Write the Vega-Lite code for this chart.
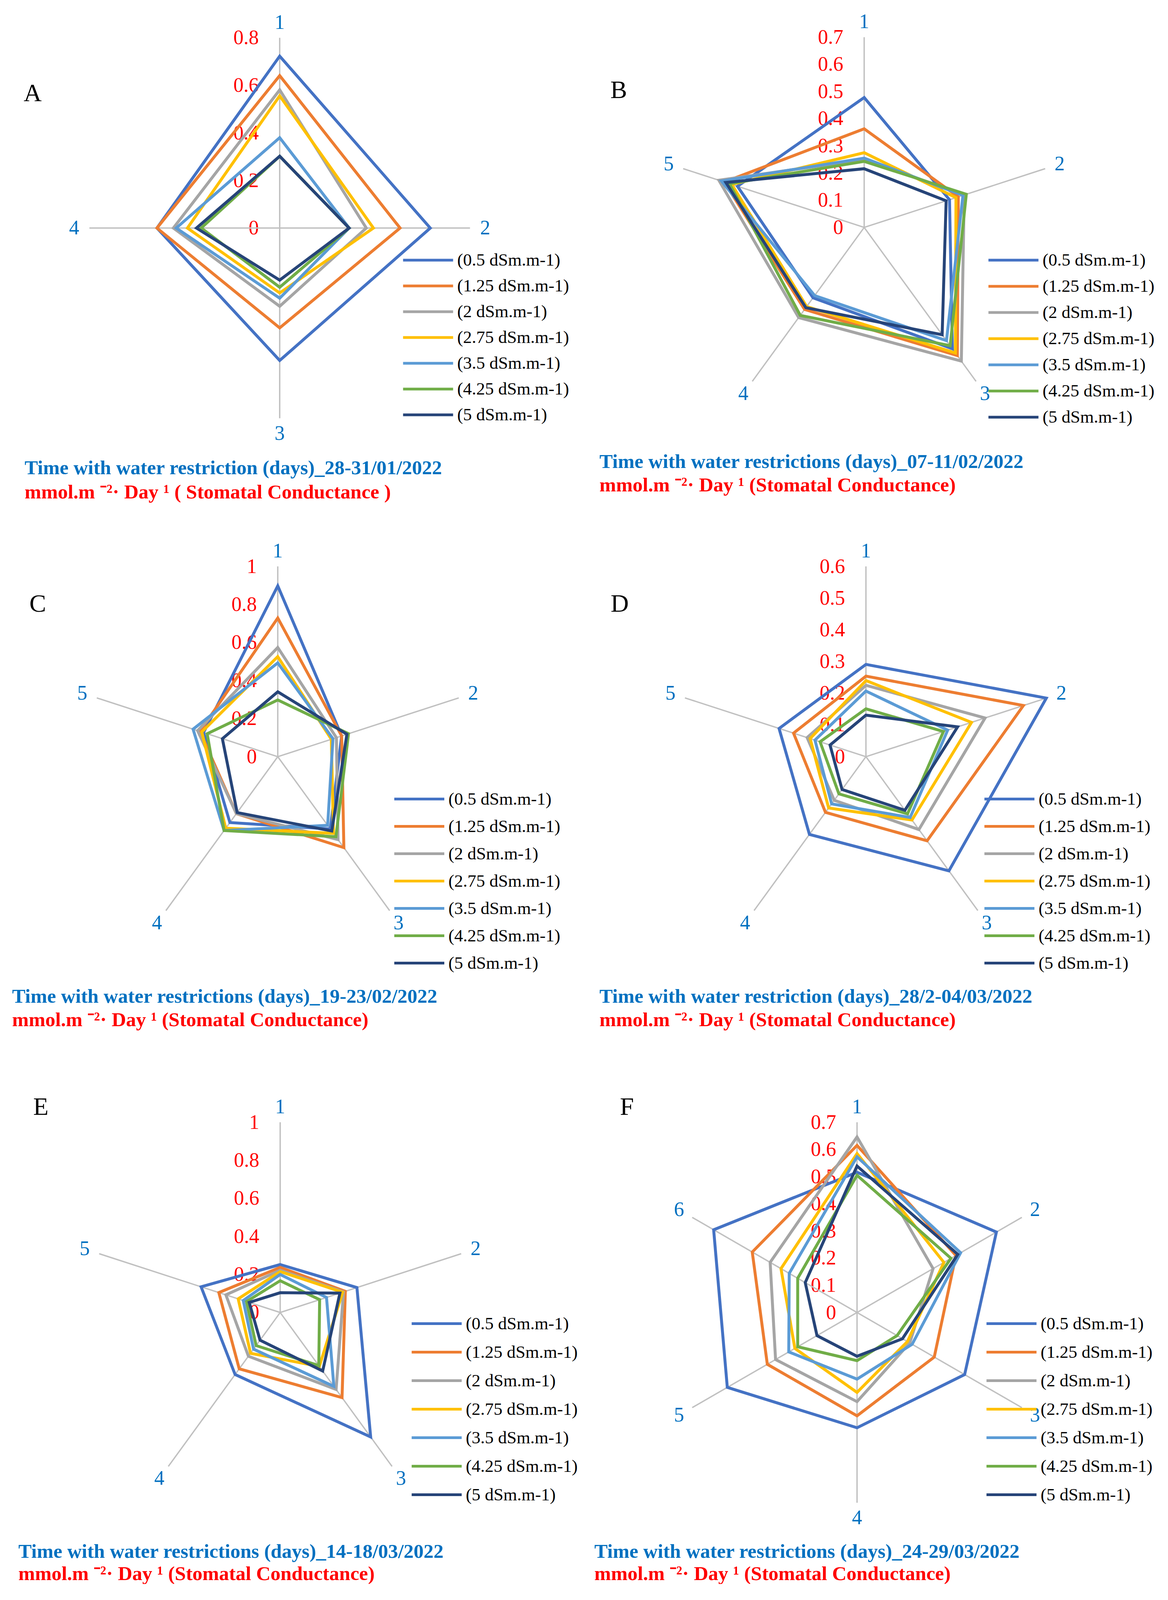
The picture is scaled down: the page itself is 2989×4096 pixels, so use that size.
{
"$schema": "https://vega.github.io/schema/vega-lite/v6.json",
"background": "white",
"padding": 0,
"columns": 2,
"spacing": {"row": 170, "column": 0},
"bounds": "flush",
"config": {
  "view": {"stroke": null},
  "font": "Liberation Serif",
  "title": {"orient": "bottom", "anchor": "start", "frame": "group", "font": "Liberation Serif", "subtitleFont": "Liberation Serif", "fontSize": 51, "subtitleFontSize": 51, "fontWeight": "bold", "subtitleFontWeight": "bold", "color": "#0070C0", "subtitleColor": "#FF0000"},
  "axis": {"domain": false, "ticks": false, "grid": false, "labelColor": "#FF0000", "labelFont": "Liberation Serif", "labelFontSize": 52, "labelPadding": 54, "labelOverlap": false, "format": "~g", "labelBaseline": "middle"},
  "legend": {"orient": "none", "symbolType": "M-7,0H1", "symbolSize": 1024, "symbolStrokeWidth": 7, "labelFont": "Liberation Serif", "labelFontSize": 45, "labelColor": "#000000", "labelOffset": 4, "labelLimit": 0}
},
"datasets": {
"radar": [
{"p":"A","s":"(0.5 dSm.m-1)","k":1,"v":0.723},{"p":"A","s":"(0.5 dSm.m-1)","k":2,"v":0.633},{"p":"A","s":"(0.5 dSm.m-1)","k":3,"v":0.557},{"p":"A","s":"(0.5 dSm.m-1)","k":4,"v":0.516},
{"p":"A","s":"(1.25 dSm.m-1)","k":1,"v":0.641},{"p":"A","s":"(1.25 dSm.m-1)","k":2,"v":0.506},{"p":"A","s":"(1.25 dSm.m-1)","k":3,"v":0.42},{"p":"A","s":"(1.25 dSm.m-1)","k":4,"v":0.516},
{"p":"A","s":"(2 dSm.m-1)","k":1,"v":0.581},{"p":"A","s":"(2 dSm.m-1)","k":2,"v":0.364},{"p":"A","s":"(2 dSm.m-1)","k":3,"v":0.329},{"p":"A","s":"(2 dSm.m-1)","k":4,"v":0.447},
{"p":"A","s":"(2.75 dSm.m-1)","k":1,"v":0.556},{"p":"A","s":"(2.75 dSm.m-1)","k":2,"v":0.394},{"p":"A","s":"(2.75 dSm.m-1)","k":3,"v":0.273},{"p":"A","s":"(2.75 dSm.m-1)","k":4,"v":0.388},
{"p":"A","s":"(3.5 dSm.m-1)","k":1,"v":0.38},{"p":"A","s":"(3.5 dSm.m-1)","k":2,"v":0.292},{"p":"A","s":"(3.5 dSm.m-1)","k":3,"v":0.295},{"p":"A","s":"(3.5 dSm.m-1)","k":4,"v":0.435},
{"p":"A","s":"(4.25 dSm.m-1)","k":1,"v":0.302},{"p":"A","s":"(4.25 dSm.m-1)","k":2,"v":0.292},{"p":"A","s":"(4.25 dSm.m-1)","k":3,"v":0.249},{"p":"A","s":"(4.25 dSm.m-1)","k":4,"v":0.33},
{"p":"A","s":"(5 dSm.m-1)","k":1,"v":0.302},{"p":"A","s":"(5 dSm.m-1)","k":2,"v":0.292},{"p":"A","s":"(5 dSm.m-1)","k":3,"v":0.219},{"p":"A","s":"(5 dSm.m-1)","k":4,"v":0.35},

{"p":"B","s":"(0.5 dSm.m-1)","k":1,"v":0.478},{"p":"B","s":"(0.5 dSm.m-1)","k":2,"v":0.33},{"p":"B","s":"(0.5 dSm.m-1)","k":3,"v":0.552},{"p":"B","s":"(0.5 dSm.m-1)","k":4,"v":0.32},{"p":"B","s":"(0.5 dSm.m-1)","k":5,"v":0.49},
{"p":"B","s":"(1.25 dSm.m-1)","k":1,"v":0.363},{"p":"B","s":"(1.25 dSm.m-1)","k":2,"v":0.364},{"p":"B","s":"(1.25 dSm.m-1)","k":3,"v":0.583},{"p":"B","s":"(1.25 dSm.m-1)","k":4,"v":0.373},{"p":"B","s":"(1.25 dSm.m-1)","k":5,"v":0.541},
{"p":"B","s":"(2 dSm.m-1)","k":1,"v":0.25},{"p":"B","s":"(2 dSm.m-1)","k":2,"v":0.387},{"p":"B","s":"(2 dSm.m-1)","k":3,"v":0.608},{"p":"B","s":"(2 dSm.m-1)","k":4,"v":0.41},{"p":"B","s":"(2 dSm.m-1)","k":5,"v":0.562},
{"p":"B","s":"(2.75 dSm.m-1)","k":1,"v":0.275},{"p":"B","s":"(2.75 dSm.m-1)","k":2,"v":0.355},{"p":"B","s":"(2.75 dSm.m-1)","k":3,"v":0.571},{"p":"B","s":"(2.75 dSm.m-1)","k":4,"v":0.36},{"p":"B","s":"(2.75 dSm.m-1)","k":5,"v":0.512},
{"p":"B","s":"(3.5 dSm.m-1)","k":1,"v":0.255},{"p":"B","s":"(3.5 dSm.m-1)","k":2,"v":0.382},{"p":"B","s":"(3.5 dSm.m-1)","k":3,"v":0.515},{"p":"B","s":"(3.5 dSm.m-1)","k":4,"v":0.31},{"p":"B","s":"(3.5 dSm.m-1)","k":5,"v":0.552},
{"p":"B","s":"(4.25 dSm.m-1)","k":1,"v":0.243},{"p":"B","s":"(4.25 dSm.m-1)","k":2,"v":0.395},{"p":"B","s":"(4.25 dSm.m-1)","k":3,"v":0.538},{"p":"B","s":"(4.25 dSm.m-1)","k":4,"v":0.4},{"p":"B","s":"(4.25 dSm.m-1)","k":5,"v":0.521},
{"p":"B","s":"(5 dSm.m-1)","k":1,"v":0.216},{"p":"B","s":"(5 dSm.m-1)","k":2,"v":0.317},{"p":"B","s":"(5 dSm.m-1)","k":3,"v":0.488},{"p":"B","s":"(5 dSm.m-1)","k":4,"v":0.365},{"p":"B","s":"(5 dSm.m-1)","k":5,"v":0.535},

{"p":"C","s":"(0.5 dSm.m-1)","k":1,"v":0.898},{"p":"C","s":"(0.5 dSm.m-1)","k":2,"v":0.353},{"p":"C","s":"(0.5 dSm.m-1)","k":3,"v":0.47},{"p":"C","s":"(0.5 dSm.m-1)","k":4,"v":0.428},{"p":"C","s":"(0.5 dSm.m-1)","k":5,"v":0.41},
{"p":"C","s":"(1.25 dSm.m-1)","k":1,"v":0.729},{"p":"C","s":"(1.25 dSm.m-1)","k":2,"v":0.353},{"p":"C","s":"(1.25 dSm.m-1)","k":3,"v":0.591},{"p":"C","s":"(1.25 dSm.m-1)","k":4,"v":0.37},{"p":"C","s":"(1.25 dSm.m-1)","k":5,"v":0.43},
{"p":"C","s":"(2 dSm.m-1)","k":1,"v":0.574},{"p":"C","s":"(2 dSm.m-1)","k":2,"v":0.324},{"p":"C","s":"(2 dSm.m-1)","k":3,"v":0.539},{"p":"C","s":"(2 dSm.m-1)","k":4,"v":0.37},{"p":"C","s":"(2 dSm.m-1)","k":5,"v":0.443},
{"p":"C","s":"(2.75 dSm.m-1)","k":1,"v":0.526},{"p":"C","s":"(2.75 dSm.m-1)","k":2,"v":0.296},{"p":"C","s":"(2.75 dSm.m-1)","k":3,"v":0.498},{"p":"C","s":"(2.75 dSm.m-1)","k":4,"v":0.465},{"p":"C","s":"(2.75 dSm.m-1)","k":5,"v":0.42},
{"p":"C","s":"(3.5 dSm.m-1)","k":1,"v":0.493},{"p":"C","s":"(3.5 dSm.m-1)","k":2,"v":0.305},{"p":"C","s":"(3.5 dSm.m-1)","k":3,"v":0.446},{"p":"C","s":"(3.5 dSm.m-1)","k":4,"v":0.48},{"p":"C","s":"(3.5 dSm.m-1)","k":5,"v":0.468},
{"p":"C","s":"(4.25 dSm.m-1)","k":1,"v":0.298},{"p":"C","s":"(4.25 dSm.m-1)","k":2,"v":0.391},{"p":"C","s":"(4.25 dSm.m-1)","k":3,"v":0.52},{"p":"C","s":"(4.25 dSm.m-1)","k":4,"v":0.48},{"p":"C","s":"(4.25 dSm.m-1)","k":5,"v":0.39},
{"p":"C","s":"(5 dSm.m-1)","k":1,"v":0.341},{"p":"C","s":"(5 dSm.m-1)","k":2,"v":0.382},{"p":"C","s":"(5 dSm.m-1)","k":3,"v":0.483},{"p":"C","s":"(5 dSm.m-1)","k":4,"v":0.363},{"p":"C","s":"(5 dSm.m-1)","k":5,"v":0.306},

{"p":"D","s":"(0.5 dSm.m-1)","k":1,"v":0.291},{"p":"D","s":"(0.5 dSm.m-1)","k":2,"v":0.598},{"p":"D","s":"(0.5 dSm.m-1)","k":3,"v":0.445},{"p":"D","s":"(0.5 dSm.m-1)","k":4,"v":0.303},{"p":"D","s":"(0.5 dSm.m-1)","k":5,"v":0.288},
{"p":"D","s":"(1.25 dSm.m-1)","k":1,"v":0.254},{"p":"D","s":"(1.25 dSm.m-1)","k":2,"v":0.522},{"p":"D","s":"(1.25 dSm.m-1)","k":3,"v":0.328},{"p":"D","s":"(1.25 dSm.m-1)","k":4,"v":0.217},{"p":"D","s":"(1.25 dSm.m-1)","k":5,"v":0.24},
{"p":"D","s":"(2 dSm.m-1)","k":1,"v":0.225},{"p":"D","s":"(2 dSm.m-1)","k":2,"v":0.395},{"p":"D","s":"(2 dSm.m-1)","k":3,"v":0.284},{"p":"D","s":"(2 dSm.m-1)","k":4,"v":0.17},{"p":"D","s":"(2 dSm.m-1)","k":5,"v":0.195},
{"p":"D","s":"(2.75 dSm.m-1)","k":1,"v":0.24},{"p":"D","s":"(2.75 dSm.m-1)","k":2,"v":0.35},{"p":"D","s":"(2.75 dSm.m-1)","k":3,"v":0.247},{"p":"D","s":"(2.75 dSm.m-1)","k":4,"v":0.2},{"p":"D","s":"(2.75 dSm.m-1)","k":5,"v":0.185},
{"p":"D","s":"(3.5 dSm.m-1)","k":1,"v":0.207},{"p":"D","s":"(3.5 dSm.m-1)","k":2,"v":0.271},{"p":"D","s":"(3.5 dSm.m-1)","k":3,"v":0.237},{"p":"D","s":"(3.5 dSm.m-1)","k":4,"v":0.184},{"p":"D","s":"(3.5 dSm.m-1)","k":5,"v":0.169},
{"p":"D","s":"(4.25 dSm.m-1)","k":1,"v":0.151},{"p":"D","s":"(4.25 dSm.m-1)","k":2,"v":0.257},{"p":"D","s":"(4.25 dSm.m-1)","k":3,"v":0.223},{"p":"D","s":"(4.25 dSm.m-1)","k":4,"v":0.145},{"p":"D","s":"(4.25 dSm.m-1)","k":5,"v":0.152},
{"p":"D","s":"(5 dSm.m-1)","k":1,"v":0.131},{"p":"D","s":"(5 dSm.m-1)","k":2,"v":0.304},{"p":"D","s":"(5 dSm.m-1)","k":3,"v":0.209},{"p":"D","s":"(5 dSm.m-1)","k":4,"v":0.128},{"p":"D","s":"(5 dSm.m-1)","k":5,"v":0.119},

{"p":"E","s":"(0.5 dSm.m-1)","k":1,"v":0.252},{"p":"E","s":"(0.5 dSm.m-1)","k":2,"v":0.424},{"p":"E","s":"(0.5 dSm.m-1)","k":3,"v":0.809},{"p":"E","s":"(0.5 dSm.m-1)","k":4,"v":0.403},{"p":"E","s":"(0.5 dSm.m-1)","k":5,"v":0.437},
{"p":"E","s":"(1.25 dSm.m-1)","k":1,"v":0.237},{"p":"E","s":"(1.25 dSm.m-1)","k":2,"v":0.36},{"p":"E","s":"(1.25 dSm.m-1)","k":3,"v":0.553},{"p":"E","s":"(1.25 dSm.m-1)","k":4,"v":0.366},{"p":"E","s":"(1.25 dSm.m-1)","k":5,"v":0.339},
{"p":"E","s":"(2 dSm.m-1)","k":1,"v":0.222},{"p":"E","s":"(2 dSm.m-1)","k":2,"v":0.35},{"p":"E","s":"(2 dSm.m-1)","k":3,"v":0.5},{"p":"E","s":"(2 dSm.m-1)","k":4,"v":0.284},{"p":"E","s":"(2 dSm.m-1)","k":5,"v":0.3},
{"p":"E","s":"(2.75 dSm.m-1)","k":1,"v":0.215},{"p":"E","s":"(2.75 dSm.m-1)","k":2,"v":0.345},{"p":"E","s":"(2.75 dSm.m-1)","k":3,"v":0.35},{"p":"E","s":"(2.75 dSm.m-1)","k":4,"v":0.265},{"p":"E","s":"(2.75 dSm.m-1)","k":5,"v":0.232},
{"p":"E","s":"(3.5 dSm.m-1)","k":1,"v":0.2},{"p":"E","s":"(3.5 dSm.m-1)","k":2,"v":0.256},{"p":"E","s":"(3.5 dSm.m-1)","k":3,"v":0.48},{"p":"E","s":"(3.5 dSm.m-1)","k":4,"v":0.238},{"p":"E","s":"(3.5 dSm.m-1)","k":5,"v":0.204},
{"p":"E","s":"(4.25 dSm.m-1)","k":1,"v":0.167},{"p":"E","s":"(4.25 dSm.m-1)","k":2,"v":0.218},{"p":"E","s":"(4.25 dSm.m-1)","k":3,"v":0.345},{"p":"E","s":"(4.25 dSm.m-1)","k":4,"v":0.215},{"p":"E","s":"(4.25 dSm.m-1)","k":5,"v":0.186},
{"p":"E","s":"(5 dSm.m-1)","k":1,"v":0.104},{"p":"E","s":"(5 dSm.m-1)","k":2,"v":0.33},{"p":"E","s":"(5 dSm.m-1)","k":3,"v":0.38},{"p":"E","s":"(5 dSm.m-1)","k":4,"v":0.18},{"p":"E","s":"(5 dSm.m-1)","k":5,"v":0.171},

{"p":"F","s":"(0.5 dSm.m-1)","k":1,"v":0.516},{"p":"F","s":"(0.5 dSm.m-1)","k":2,"v":0.592},{"p":"F","s":"(0.5 dSm.m-1)","k":3,"v":0.457},{"p":"F","s":"(0.5 dSm.m-1)","k":4,"v":0.424},{"p":"F","s":"(0.5 dSm.m-1)","k":5,"v":0.551},{"p":"F","s":"(0.5 dSm.m-1)","k":6,"v":0.609},
{"p":"F","s":"(1.25 dSm.m-1)","k":1,"v":0.615},{"p":"F","s":"(1.25 dSm.m-1)","k":2,"v":0.42},{"p":"F","s":"(1.25 dSm.m-1)","k":3,"v":0.328},{"p":"F","s":"(1.25 dSm.m-1)","k":4,"v":0.38},{"p":"F","s":"(1.25 dSm.m-1)","k":5,"v":0.381},{"p":"F","s":"(1.25 dSm.m-1)","k":6,"v":0.445},
{"p":"F","s":"(2 dSm.m-1)","k":1,"v":0.646},{"p":"F","s":"(2 dSm.m-1)","k":2,"v":0.323},{"p":"F","s":"(2 dSm.m-1)","k":3,"v":0.224},{"p":"F","s":"(2 dSm.m-1)","k":4,"v":0.328},{"p":"F","s":"(2 dSm.m-1)","k":5,"v":0.346},{"p":"F","s":"(2 dSm.m-1)","k":6,"v":0.369},
{"p":"F","s":"(2.75 dSm.m-1)","k":1,"v":0.585},{"p":"F","s":"(2.75 dSm.m-1)","k":2,"v":0.369},{"p":"F","s":"(2.75 dSm.m-1)","k":3,"v":0.214},{"p":"F","s":"(2.75 dSm.m-1)","k":4,"v":0.294},{"p":"F","s":"(2.75 dSm.m-1)","k":5,"v":0.264},{"p":"F","s":"(2.75 dSm.m-1)","k":6,"v":0.323},
{"p":"F","s":"(3.5 dSm.m-1)","k":1,"v":0.573},{"p":"F","s":"(3.5 dSm.m-1)","k":2,"v":0.44},{"p":"F","s":"(3.5 dSm.m-1)","k":3,"v":0.234},{"p":"F","s":"(3.5 dSm.m-1)","k":4,"v":0.245},{"p":"F","s":"(3.5 dSm.m-1)","k":5,"v":0.29},{"p":"F","s":"(3.5 dSm.m-1)","k":6,"v":0.288},
{"p":"F","s":"(4.25 dSm.m-1)","k":1,"v":0.505},{"p":"F","s":"(4.25 dSm.m-1)","k":2,"v":0.399},{"p":"F","s":"(4.25 dSm.m-1)","k":3,"v":0.17},{"p":"F","s":"(4.25 dSm.m-1)","k":4,"v":0.177},{"p":"F","s":"(4.25 dSm.m-1)","k":5,"v":0.252},{"p":"F","s":"(4.25 dSm.m-1)","k":6,"v":0.252},
{"p":"F","s":"(5 dSm.m-1)","k":1,"v":0.539},{"p":"F","s":"(5 dSm.m-1)","k":2,"v":0.428},{"p":"F","s":"(5 dSm.m-1)","k":3,"v":0.193},{"p":"F","s":"(5 dSm.m-1)","k":4,"v":0.161},{"p":"F","s":"(5 dSm.m-1)","k":5,"v":0.17},{"p":"F","s":"(5 dSm.m-1)","k":6,"v":0.22}
]
},
"resolve": {"scale": {"color": "independent", "x": "independent", "y": "independent"}, "legend": {"color": "independent"}},
"concat": [
{
 "width": 1494, "height": 1140,
 "title": {"text": "Time with water restriction (days)_28-31/01/2022", "subtitle": "mmol.m ⁻²· Day ¹ ( Stomatal Conductance )", "offset": 34, "dx": 63, "subtitlePadding": 11},
 "data": {"name": "radar"},
 "transform": [{"filter": "datum.p == 'A'"}],
 "encoding": {
  "x": {"field": "px", "type": "quantitative", "scale": {"domain": [-1.1758, 1.2784], "nice": false, "zero": false}, "axis": null},
  "y": {"field": "py", "type": "quantitative", "scale": {"domain": [-0.9137, 0.959], "nice": false, "zero": false}, "axis": {"values": [0, 0.2, 0.4, 0.6, 0.8], "offset": -715.8, "title": null}}
 },
 "layer": [
  {"transform": [{"aggregate": [{"op": "count", "as": "n"}], "groupby": ["k"]}, {"calculate": "0.8*sin(2*PI*(datum.k-1)/4)", "as": "px"}, {"calculate": "0.8*cos(2*PI*(datum.k-1)/4)", "as": "py"}],
   "mark": {"type": "rule", "color": "#C0C0C0", "strokeWidth": 3.5},
   "encoding": {"x": {"datum": 0}, "y": {"datum": 0}, "x2": {"field": "px"}, "y2": {"field": "py"}}},
  {"transform": [{"calculate": "datum.v*sin(2*PI*(datum.k-1)/4)", "as": "px"}, {"calculate": "datum.v*cos(2*PI*(datum.k-1)/4)", "as": "py"}],
   "mark": {"type": "line", "interpolate": "linear-closed", "strokeWidth": 7.5, "strokeJoin": "miter"},
   "encoding": {"order": {"field": "k", "type": "quantitative"},
    "color": {"field": "s", "type": "nominal", "scale": {"domain": ["(0.5 dSm.m-1)", "(1.25 dSm.m-1)", "(2 dSm.m-1)", "(2.75 dSm.m-1)", "(3.5 dSm.m-1)", "(4.25 dSm.m-1)", "(5 dSm.m-1)"], "range": ["#4472C4", "#ED7D31", "#A5A5A5", "#FFC000", "#5B9BD5", "#70AD47", "#264478"]},
     "legend": {"title": null, "legendX": 1121, "legendY": 643.5, "rowPadding": 20}}}},
  {"transform": [{"aggregate": [{"op": "count", "as": "n"}], "groupby": ["k"]}, {"calculate": "1.08*0.8*sin(2*PI*(datum.k-1)/4)", "as": "px"}, {"calculate": "1.08*0.8*cos(2*PI*(datum.k-1)/4)", "as": "py"}],
   "mark": {"type": "text", "font": "Liberation Serif", "fontSize": 52, "color": "#0070C0", "align": "center", "baseline": "middle"},
   "encoding": {"text": {"field": "k", "type": "nominal"}}},
  {"transform": [{"aggregate": [{"op": "count", "as": "n"}], "groupby": ["p"]}, {"calculate": "-1.0385", "as": "px"}, {"calculate": "0.5641", "as": "py"}],
   "mark": {"type": "text", "font": "Liberation Serif", "fontSize": 64, "color": "#000000", "align": "center", "baseline": "middle"},
   "encoding": {"text": {"field": "p", "type": "nominal"}}}
 ]
},
{
 "width": 1494, "height": 1140,
 "title": {"text": "Time with water restrictions (days)_07-11/02/2022", "subtitle": "mmol.m ⁻²· Day ¹ (Stomatal Conductance)", "offset": 18, "dx": 40, "subtitlePadding": 9},
 "data": {"name": "radar"},
 "transform": [{"filter": "datum.p == 'B'"}],
 "encoding": {
  "x": {"field": "px", "type": "quantitative", "scale": {"domain": [-1.0313, 1.1161], "nice": false, "zero": false}, "axis": null},
  "y": {"field": "py", "type": "quantitative", "scale": {"domain": [-0.8018, 0.8369], "nice": false, "zero": false}, "axis": {"values": [0, 0.1, 0.2, 0.3, 0.4, 0.5, 0.6, 0.7], "offset": -717.5, "title": null}}
 },
 "layer": [
  {"transform": [{"aggregate": [{"op": "count", "as": "n"}], "groupby": ["k"]}, {"calculate": "0.7*sin(2*PI*(datum.k-1)/5)", "as": "px"}, {"calculate": "0.7*cos(2*PI*(datum.k-1)/5)", "as": "py"}],
   "mark": {"type": "rule", "color": "#C0C0C0", "strokeWidth": 3.5},
   "encoding": {"x": {"datum": 0}, "y": {"datum": 0}, "x2": {"field": "px"}, "y2": {"field": "py"}}},
  {"transform": [{"calculate": "datum.v*sin(2*PI*(datum.k-1)/5)", "as": "px"}, {"calculate": "datum.v*cos(2*PI*(datum.k-1)/5)", "as": "py"}],
   "mark": {"type": "line", "interpolate": "linear-closed", "strokeWidth": 7.5, "strokeJoin": "miter"},
   "encoding": {"order": {"field": "k", "type": "quantitative"},
    "color": {"field": "s", "type": "nominal", "scale": {"domain": ["(0.5 dSm.m-1)", "(1.25 dSm.m-1)", "(2 dSm.m-1)", "(2.75 dSm.m-1)", "(3.5 dSm.m-1)", "(4.25 dSm.m-1)", "(5 dSm.m-1)"], "range": ["#4472C4", "#ED7D31", "#A5A5A5", "#FFC000", "#5B9BD5", "#70AD47", "#264478"]},
     "legend": {"title": null, "legendX": 1125, "legendY": 643.5, "rowPadding": 21}}}},
  {"transform": [{"aggregate": [{"op": "count", "as": "n"}], "groupby": ["k"]}, {"calculate": "1.08*0.7*sin(2*PI*(datum.k-1)/5)", "as": "px"}, {"calculate": "1.08*0.7*cos(2*PI*(datum.k-1)/5)", "as": "py"}],
   "mark": {"type": "text", "font": "Liberation Serif", "fontSize": 52, "color": "#0070C0", "align": "center", "baseline": "middle"},
   "encoding": {"text": {"field": "k", "type": "nominal"}}},
  {"transform": [{"aggregate": [{"op": "count", "as": "n"}], "groupby": ["p"]}, {"calculate": "-0.9028", "as": "px"}, {"calculate": "0.5027", "as": "py"}],
   "mark": {"type": "text", "font": "Liberation Serif", "fontSize": 64, "color": "#000000", "align": "center", "baseline": "middle"},
   "encoding": {"text": {"field": "p", "type": "nominal"}}}
 ]
},
{
 "width": 1494, "height": 1180,
 "title": {"text": "Time with water restrictions (days)_19-23/02/2022", "subtitle": "mmol.m ⁻²· Day ¹ (Stomatal Conductance)", "offset": 37, "dx": 31, "subtitlePadding": 9},
 "data": {"name": "radar"},
 "transform": [{"filter": "datum.p == 'C'"}],
 "encoding": {
  "x": {"field": "px", "type": "quantitative", "scale": {"domain": [-1.4596, 1.6082], "nice": false, "zero": false}, "axis": null},
  "y": {"field": "py", "type": "quantitative", "scale": {"domain": [-1.1353, 1.2877], "nice": false, "zero": false}, "axis": {"values": [0, 0.2, 0.4, 0.6, 0.8, 1], "offset": -710.8, "title": null}}
 },
 "layer": [
  {"transform": [{"aggregate": [{"op": "count", "as": "n"}], "groupby": ["k"]}, {"calculate": "1.0*sin(2*PI*(datum.k-1)/5)", "as": "px"}, {"calculate": "1.0*cos(2*PI*(datum.k-1)/5)", "as": "py"}],
   "mark": {"type": "rule", "color": "#C0C0C0", "strokeWidth": 3.5},
   "encoding": {"x": {"datum": 0}, "y": {"datum": 0}, "x2": {"field": "px"}, "y2": {"field": "py"}}},
  {"transform": [{"calculate": "datum.v*sin(2*PI*(datum.k-1)/5)", "as": "px"}, {"calculate": "datum.v*cos(2*PI*(datum.k-1)/5)", "as": "py"}],
   "mark": {"type": "line", "interpolate": "linear-closed", "strokeWidth": 7.5, "strokeJoin": "miter"},
   "encoding": {"order": {"field": "k", "type": "quantitative"},
    "color": {"field": "s", "type": "nominal", "scale": {"domain": ["(0.5 dSm.m-1)", "(1.25 dSm.m-1)", "(2 dSm.m-1)", "(2.75 dSm.m-1)", "(3.5 dSm.m-1)", "(4.25 dSm.m-1)", "(5 dSm.m-1)"], "range": ["#4472C4", "#ED7D31", "#A5A5A5", "#FFC000", "#5B9BD5", "#70AD47", "#264478"]},
     "legend": {"title": null, "legendX": 1098.5, "legendY": 713, "rowPadding": 24}}}},
  {"transform": [{"aggregate": [{"op": "count", "as": "n"}], "groupby": ["k"]}, {"calculate": "1.08*1.0*sin(2*PI*(datum.k-1)/5)", "as": "px"}, {"calculate": "1.08*1.0*cos(2*PI*(datum.k-1)/5)", "as": "py"}],
   "mark": {"type": "text", "font": "Liberation Serif", "fontSize": 52, "color": "#0070C0", "align": "center", "baseline": "middle"},
   "encoding": {"text": {"field": "k", "type": "nominal"}}},
  {"transform": [{"aggregate": [{"op": "count", "as": "n"}], "groupby": ["p"]}, {"calculate": "-1.261", "as": "px"}, {"calculate": "0.8014", "as": "py"}],
   "mark": {"type": "text", "font": "Liberation Serif", "fontSize": 64, "color": "#000000", "align": "center", "baseline": "middle"},
   "encoding": {"text": {"field": "p", "type": "nominal"}}}
 ]
},
{
 "width": 1494, "height": 1180,
 "title": {"text": "Time with water restriction (days)_28/2-04/03/2022", "subtitle": "mmol.m ⁻²· Day ¹ (Stomatal Conductance)", "offset": 37, "dx": 40, "subtitlePadding": 9},
 "data": {"name": "radar"},
 "transform": [{"filter": "datum.p == 'D'"}],
 "encoding": {
  "x": {"field": "px", "type": "quantitative", "scale": {"domain": [-0.8895, 0.9511], "nice": false, "zero": false}, "axis": null},
  "y": {"field": "py", "type": "quantitative", "scale": {"domain": [-0.6812, 0.7726], "nice": false, "zero": false}, "axis": {"values": [0, 0.1, 0.2, 0.3, 0.4, 0.5, 0.6], "offset": -722, "title": null}}
 },
 "layer": [
  {"transform": [{"aggregate": [{"op": "count", "as": "n"}], "groupby": ["k"]}, {"calculate": "0.6*sin(2*PI*(datum.k-1)/5)", "as": "px"}, {"calculate": "0.6*cos(2*PI*(datum.k-1)/5)", "as": "py"}],
   "mark": {"type": "rule", "color": "#C0C0C0", "strokeWidth": 3.5},
   "encoding": {"x": {"datum": 0}, "y": {"datum": 0}, "x2": {"field": "px"}, "y2": {"field": "py"}}},
  {"transform": [{"calculate": "datum.v*sin(2*PI*(datum.k-1)/5)", "as": "px"}, {"calculate": "datum.v*cos(2*PI*(datum.k-1)/5)", "as": "py"}],
   "mark": {"type": "line", "interpolate": "linear-closed", "strokeWidth": 7.5, "strokeJoin": "miter"},
   "encoding": {"order": {"field": "k", "type": "quantitative"},
    "color": {"field": "s", "type": "nominal", "scale": {"domain": ["(0.5 dSm.m-1)", "(1.25 dSm.m-1)", "(2 dSm.m-1)", "(2.75 dSm.m-1)", "(3.5 dSm.m-1)", "(4.25 dSm.m-1)", "(5 dSm.m-1)"], "range": ["#4472C4", "#ED7D31", "#A5A5A5", "#FFC000", "#5B9BD5", "#70AD47", "#264478"]},
     "legend": {"title": null, "legendX": 1114.7, "legendY": 713, "rowPadding": 24}}}},
  {"transform": [{"aggregate": [{"op": "count", "as": "n"}], "groupby": ["k"]}, {"calculate": "1.08*0.6*sin(2*PI*(datum.k-1)/5)", "as": "px"}, {"calculate": "1.08*0.6*cos(2*PI*(datum.k-1)/5)", "as": "py"}],
   "mark": {"type": "text", "font": "Liberation Serif", "fontSize": 52, "color": "#0070C0", "align": "center", "baseline": "middle"},
   "encoding": {"text": {"field": "k", "type": "nominal"}}},
  {"transform": [{"aggregate": [{"op": "count", "as": "n"}], "groupby": ["p"]}, {"calculate": "-0.7762", "as": "px"}, {"calculate": "0.4809", "as": "py"}],
   "mark": {"type": "text", "font": "Liberation Serif", "fontSize": 64, "color": "#000000", "align": "center", "baseline": "middle"},
   "encoding": {"text": {"field": "p", "type": "nominal"}}}
 ]
},
{
 "width": 1494, "height": 1265,
 "title": {"text": "Time with water restrictions (days)_14-18/03/2022", "subtitle": "mmol.m ⁻²· Day ¹ (Stomatal Conductance)", "offset": 23, "dx": 47, "subtitlePadding": 6},
 "data": {"name": "radar"},
 "transform": [{"filter": "datum.p == 'E'"}],
 "encoding": {
  "x": {"field": "px", "type": "quantitative", "scale": {"domain": [-1.4723, 1.5955], "nice": false, "zero": false}, "axis": null},
  "y": {"field": "py", "type": "quantitative", "scale": {"domain": [-1.1602, 1.4374], "nice": false, "zero": false}, "axis": {"values": [0, 0.2, 0.4, 0.6, 0.8, 1], "offset": -717, "title": null}}
 },
 "layer": [
  {"transform": [{"aggregate": [{"op": "count", "as": "n"}], "groupby": ["k"]}, {"calculate": "1.0*sin(2*PI*(datum.k-1)/5)", "as": "px"}, {"calculate": "1.0*cos(2*PI*(datum.k-1)/5)", "as": "py"}],
   "mark": {"type": "rule", "color": "#C0C0C0", "strokeWidth": 3.5},
   "encoding": {"x": {"datum": 0}, "y": {"datum": 0}, "x2": {"field": "px"}, "y2": {"field": "py"}}},
  {"transform": [{"calculate": "datum.v*sin(2*PI*(datum.k-1)/5)", "as": "px"}, {"calculate": "datum.v*cos(2*PI*(datum.k-1)/5)", "as": "py"}],
   "mark": {"type": "line", "interpolate": "linear-closed", "strokeWidth": 7.5, "strokeJoin": "miter"},
   "encoding": {"order": {"field": "k", "type": "quantitative"},
    "color": {"field": "s", "type": "nominal", "scale": {"domain": ["(0.5 dSm.m-1)", "(1.25 dSm.m-1)", "(2 dSm.m-1)", "(2.75 dSm.m-1)", "(3.5 dSm.m-1)", "(4.25 dSm.m-1)", "(5 dSm.m-1)"], "range": ["#4472C4", "#ED7D31", "#A5A5A5", "#FFC000", "#5B9BD5", "#70AD47", "#264478"]},
     "legend": {"title": null, "legendX": 1143, "legendY": 706, "rowPadding": 27}}}},
  {"transform": [{"aggregate": [{"op": "count", "as": "n"}], "groupby": ["k"]}, {"calculate": "1.08*1.0*sin(2*PI*(datum.k-1)/5)", "as": "px"}, {"calculate": "1.08*1.0*cos(2*PI*(datum.k-1)/5)", "as": "py"}],
   "mark": {"type": "text", "font": "Liberation Serif", "fontSize": 52, "color": "#0070C0", "align": "center", "baseline": "middle"},
   "encoding": {"text": {"field": "k", "type": "nominal"}}},
  {"transform": [{"aggregate": [{"op": "count", "as": "n"}], "groupby": ["p"]}, {"calculate": "-1.2577", "as": "px"}, {"calculate": "1.0782", "as": "py"}],
   "mark": {"type": "text", "font": "Liberation Serif", "fontSize": 64, "color": "#000000", "align": "center", "baseline": "middle"},
   "encoding": {"text": {"field": "p", "type": "nominal"}}}
 ]
},
{
 "width": 1494, "height": 1265,
 "title": {"text": "Time with water restrictions (days)_24-29/03/2022", "subtitle": "mmol.m ⁻²· Day ¹ (Stomatal Conductance)", "offset": 23, "dx": 27, "subtitlePadding": 6},
 "data": {"name": "radar"},
 "transform": [{"filter": "datum.p == 'F'"}],
 "encoding": {
  "x": {"field": "px", "type": "quantitative", "scale": {"domain": [-1.005, 1.1424], "nice": false, "zero": false}, "axis": null},
  "y": {"field": "py", "type": "quantitative", "scale": {"domain": [-0.8121, 1.0062], "nice": false, "zero": false}, "axis": {"values": [0, 0.1, 0.2, 0.3, 0.4, 0.5, 0.6, 0.7], "offset": -699.2, "title": null}}
 },
 "layer": [
  {"transform": [{"aggregate": [{"op": "count", "as": "n"}], "groupby": ["k"]}, {"calculate": "0.7*sin(2*PI*(datum.k-1)/6)", "as": "px"}, {"calculate": "0.7*cos(2*PI*(datum.k-1)/6)", "as": "py"}],
   "mark": {"type": "rule", "color": "#C0C0C0", "strokeWidth": 3.5},
   "encoding": {"x": {"datum": 0}, "y": {"datum": 0}, "x2": {"field": "px"}, "y2": {"field": "py"}}},
  {"transform": [{"calculate": "datum.v*sin(2*PI*(datum.k-1)/6)", "as": "px"}, {"calculate": "datum.v*cos(2*PI*(datum.k-1)/6)", "as": "py"}],
   "mark": {"type": "line", "interpolate": "linear-closed", "strokeWidth": 7.5, "strokeJoin": "miter"},
   "encoding": {"order": {"field": "k", "type": "quantitative"},
    "color": {"field": "s", "type": "nominal", "scale": {"domain": ["(0.5 dSm.m-1)", "(1.25 dSm.m-1)", "(2 dSm.m-1)", "(2.75 dSm.m-1)", "(3.5 dSm.m-1)", "(4.25 dSm.m-1)", "(5 dSm.m-1)"], "range": ["#4472C4", "#ED7D31", "#A5A5A5", "#FFC000", "#5B9BD5", "#70AD47", "#264478"]},
     "legend": {"title": null, "legendX": 1120, "legendY": 706, "rowPadding": 27}}}},
  {"transform": [{"aggregate": [{"op": "count", "as": "n"}], "groupby": ["k"]}, {"calculate": "1.08*0.7*sin(2*PI*(datum.k-1)/6)", "as": "px"}, {"calculate": "1.08*0.7*cos(2*PI*(datum.k-1)/6)", "as": "py"}],
   "mark": {"type": "text", "font": "Liberation Serif", "fontSize": 52, "color": "#0070C0", "align": "center", "baseline": "middle"},
   "encoding": {"text": {"field": "k", "type": "nominal"}}},
  {"transform": [{"aggregate": [{"op": "count", "as": "n"}], "groupby": ["p"]}, {"calculate": "-0.8465", "as": "px"}, {"calculate": "0.7548", "as": "py"}],
   "mark": {"type": "text", "font": "Liberation Serif", "fontSize": 64, "color": "#000000", "align": "center", "baseline": "middle"},
   "encoding": {"text": {"field": "p", "type": "nominal"}}}
 ]
}
]
}
